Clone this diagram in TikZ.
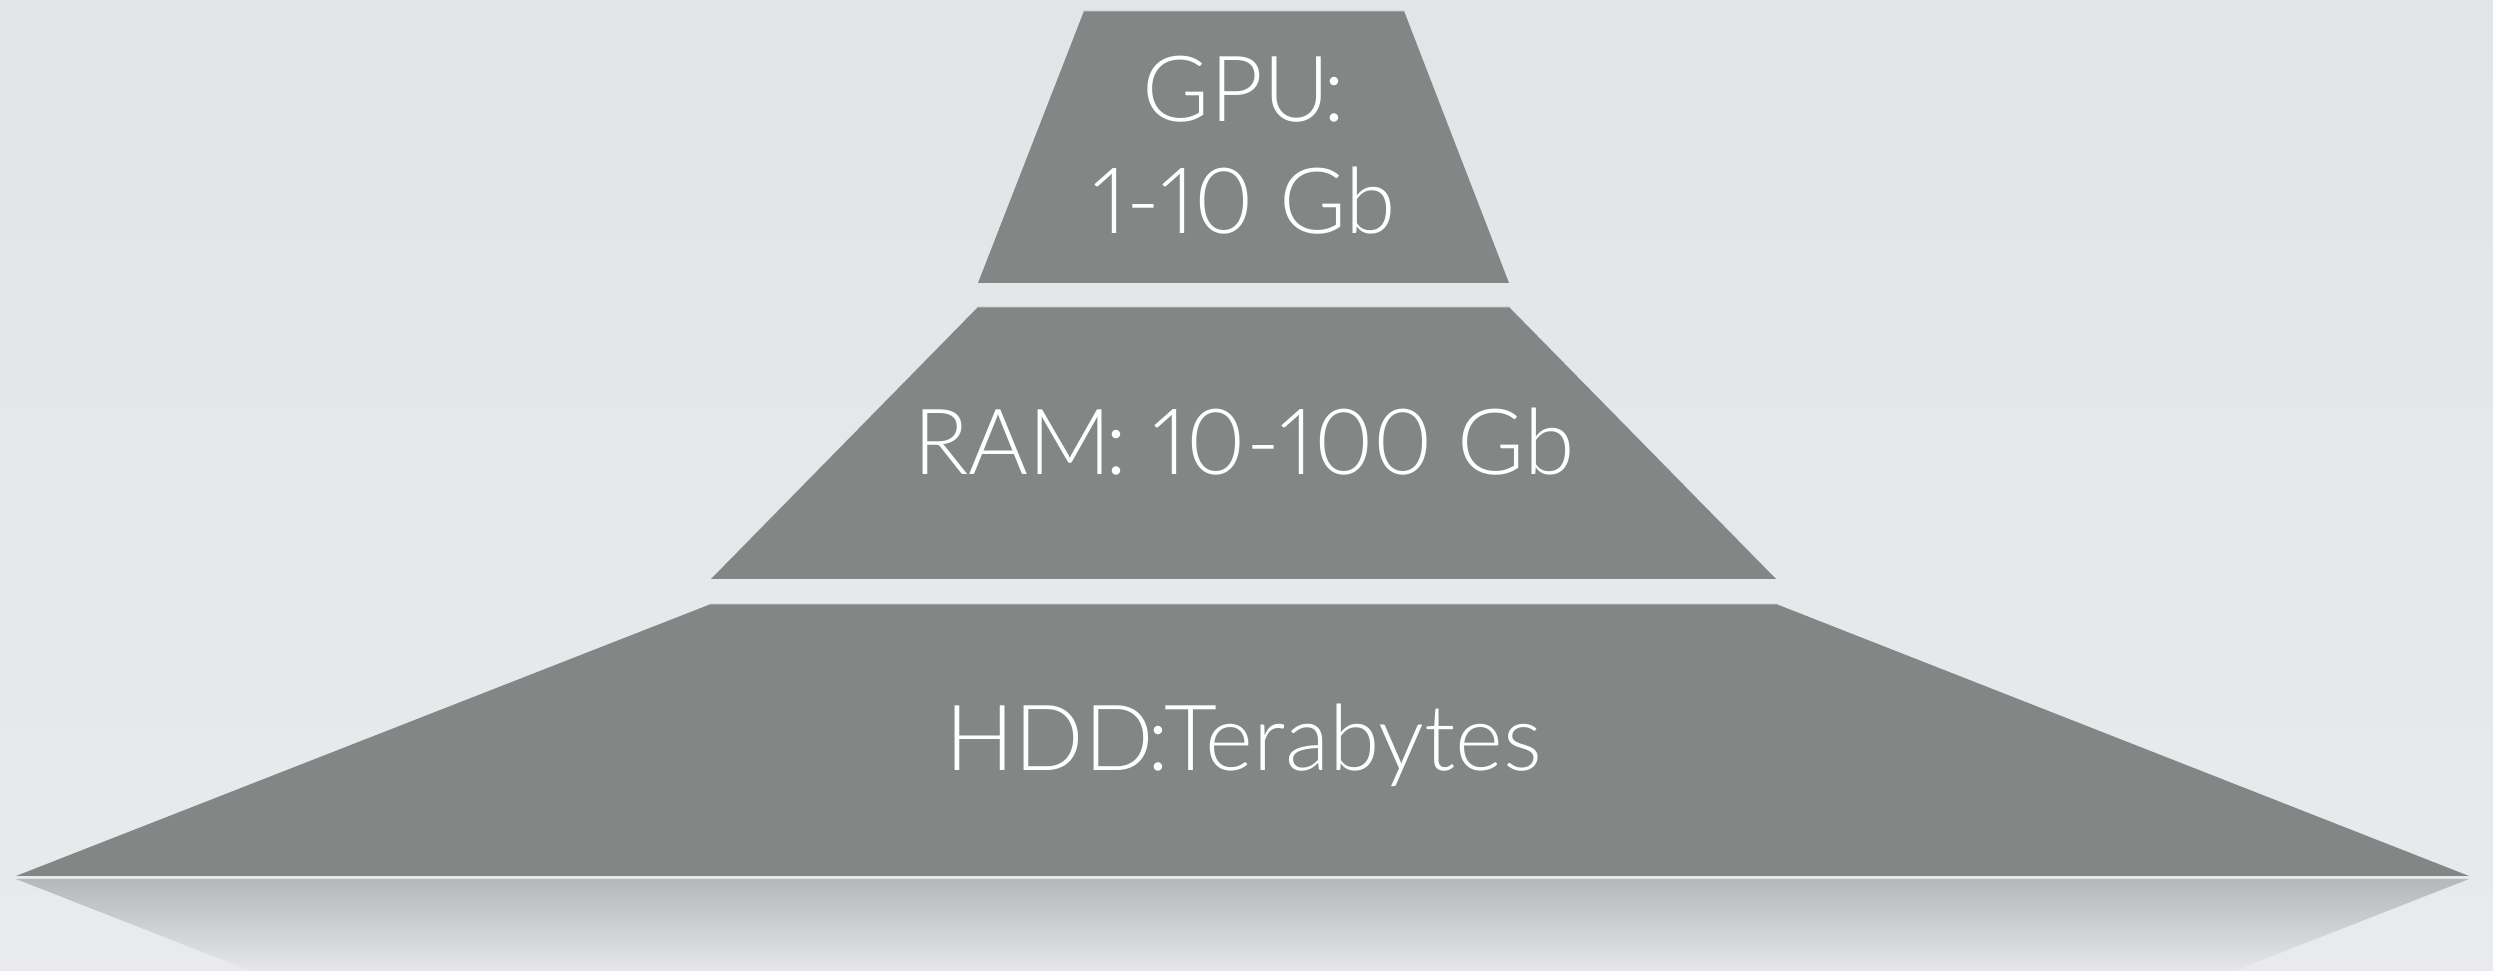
\documentclass[tikz,border=0pt]{standalone}
\usepackage{fontspec}
\setmainfont{Lato}[UprightFont=* Light, Numbers=Proportional]
\definecolor{tierfill}{RGB}{130,135,133}
\definecolor{tieredge}{RGB}{158,163,161}
\definecolor{bgtop}{RGB}{226,228,232}
\definecolor{bgbot}{RGB}{233,234,237}
\definecolor{reftop}{RGB}{180,184,186}
\definecolor{reffade}{RGB}{229,231,234}
% colon set a little closer to the word before it
\newcommand{\tightcolon}{\kern-0.07em:}
\begin{document}
\begin{tikzpicture}[x=0.01cm,y=-0.01cm,
  tier/.style={fill=tierfill, draw=none},
  tiertop/.style={draw=tieredge, line width=0.25pt},
  tierlabel/.style={text=white, font=\fontsize{26}{31}\selectfont, inner sep=0pt}]
\useasboundingbox (0,0) rectangle (2493,971);
% backdrop
\shade[top color=bgtop, bottom color=bgbot] (0,0) rectangle (2493,971);
% mirrored base tier, fading out
\shade[top color=reftop, bottom color=reffade]
  (16,879) -- (2469,879) -- (2234,971) -- (251,971) -- cycle;
% the three tiers
\fill[tier] (1084,11) -- (1404,11) -- (1509,283) -- (978,283) -- cycle;
\fill[tier] (978,307) -- (1509,307) -- (1776,579) -- (711,579) -- cycle;
\fill[tier] (711,604) -- (1776,604) -- (2469,876) -- (16,876) -- cycle;
\draw[tiertop] (1084,11) -- (1404,11);
\draw[tiertop] (978,307) -- (1509,307);
\draw[tiertop] (711,604) -- (1776,604);
% labels
\node[tierlabel, anchor=base] (gpuname) at (1244,122) {GPU\tightcolon};
\node[tierlabel, anchor=base] (gpusize) at (1244,234) {1-10 Gb};
\node[tierlabel, anchor=base] (ram) at (1244,475) {RAM\tightcolon{} 10-100 Gb};
\node[tierlabel, anchor=base] (hdd) at (1244,771) {HDD\tightcolon Terabytes};
\end{tikzpicture}
\end{document}
